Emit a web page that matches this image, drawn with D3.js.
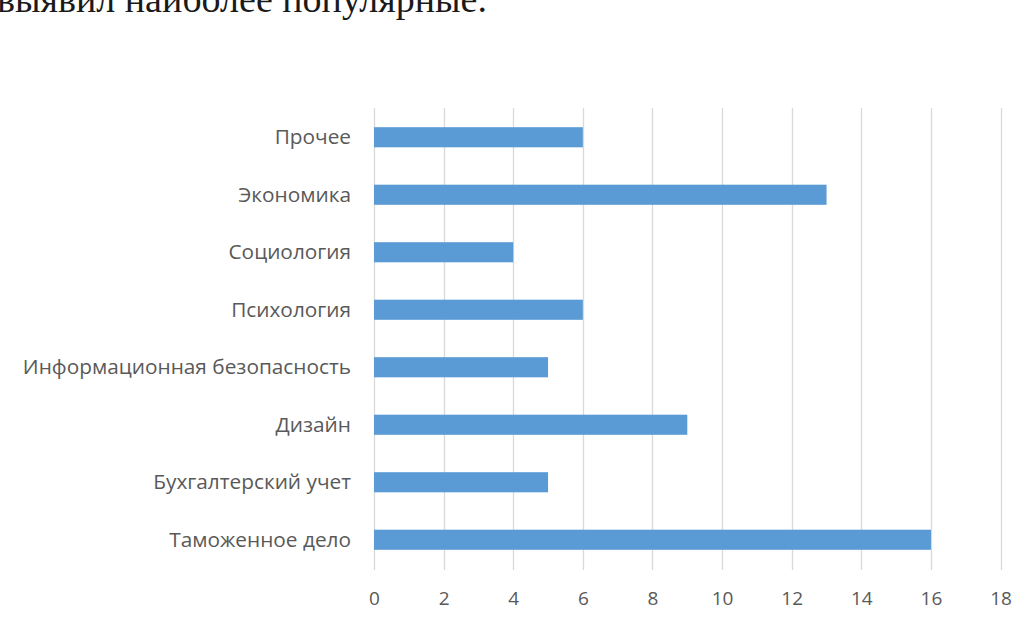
<!DOCTYPE html>
<html><head><meta charset="utf-8">
<script src="https://cdn.jsdelivr.net/npm/d3@7"></script>
<style>body{margin:0;background:#fff;}svg{display:block;}</style>
</head><body>
<svg id="c" width="1029" height="625"></svg>
<script>
const categories = ["Прочее","Экономика","Социология","Психология","Информационная безопасность","Дизайн","Бухгалтерский учет","Таможенное дело"];
const values = [6,13,4,6,5,9,5,16];
const xTicks = [0,2,4,6,8,10,12,14,16,18];
const headText = "выявил наиболее популярные.";

const svg = d3.select("#c");
svg.append("text").attr("x",-3).attr("y",12)
  .style("font-family","'Liberation Serif','Times New Roman',serif")
  .style("font-size","38px").attr("fill","#1a1a1a").text(headText);

const x = d3.scaleLinear().domain([0,18]).range([374,1000.6]);
const y = d3.scaleBand().domain(categories).range([108,568]).paddingInner(0.65).paddingOuter(0.325);

const g = svg.append("g");
g.selectAll("line.grid").data(xTicks).enter().append("line")
  .attr("x1",d=>Math.round(x(d))+0.5).attr("x2",d=>Math.round(x(d))+0.5)
  .attr("y1",108).attr("y2",570).attr("stroke","#d9d9d9").attr("stroke-width",1.3);

g.selectAll("rect").data(values).enter().append("rect")
  .attr("x",x(0)).attr("y",(d,i)=>y(categories[i])+0.5)
  .attr("width",d=>x(d)-x(0)).attr("height",y.bandwidth())
  .attr("fill","#5B9BD5");

const font = "'Open Sans','Noto Sans',sans-serif";
const yAxis = d3.axisLeft(y).tickSize(0).tickPadding(0);
const ya = svg.append("g").attr("transform","translate(351,1)").call(yAxis);
ya.select(".domain").remove();
ya.selectAll("text").style("font-family",font).style("font-size","20.8px").attr("fill","#595959");

const xAxis = d3.axisBottom(x).tickValues(xTicks).tickSize(0).tickPadding(0);
const xa = svg.append("g").attr("transform","translate(0,591)").call(xAxis);
xa.select(".domain").remove();
xa.selectAll("text").style("font-family",font).style("font-size","19px").attr("fill","#595959");
</script>
</body></html>
